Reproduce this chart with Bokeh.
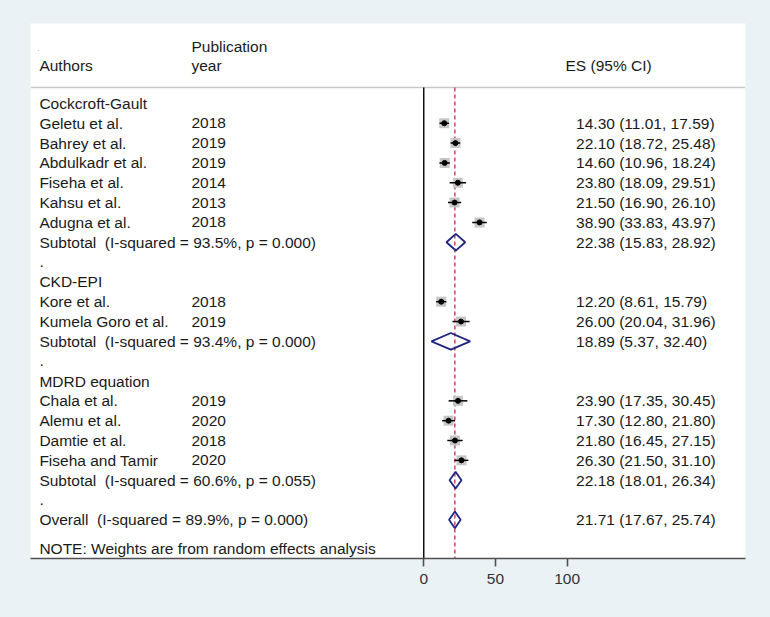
from bokeh.plotting import figure
from bokeh.models import Range1d, FixedTicker, ColumnDataSource
from bokeh.core.properties import value
from bokeh.embed import file_html
from bokeh.resources import INLINE

# ---------------- data ----------------
groups = ["Cockcroft-Gault", "CKD-EPI", "MDRD equation"]
authors = ["Geletu et al.", "Bahrey et al.", "Abdulkadr et al.", "Fiseha et al.",
           "Kahsu et al.", "Adugna et al.",
           "Kore et al.", "Kumela Goro et al.",
           "Chala et al.", "Alemu et al.", "Damtie et al.", "Fiseha and Tamir"]
years = ["2018", "2019", "2019", "2014", "2013", "2018",
         "2018", "2019",
         "2019", "2020", "2018", "2020"]
study_group = [0, 0, 0, 0, 0, 0, 1, 1, 2, 2, 2, 2]
es = [14.30, 22.10, 14.60, 23.80, 21.50, 38.90, 12.20, 26.00, 23.90, 17.30, 21.80, 26.30]
lo = [11.01, 18.72, 10.96, 18.09, 16.90, 33.83, 8.61, 20.04, 17.35, 12.80, 16.45, 21.50]
hi = [17.59, 25.48, 18.24, 29.51, 26.10, 43.97, 15.79, 31.96, 30.45, 21.80, 27.15, 31.10]

sub_i2 = ["93.5%", "93.4%", "60.6%"]
sub_p = ["0.000", "0.000", "0.055"]
sub_es = [22.38, 18.89, 22.18]
sub_lo = [15.83, 5.37, 18.01]
sub_hi = [28.92, 32.40, 26.34]

overall_es, overall_lo, overall_hi = 21.71, 17.67, 25.74
overall_i2, overall_p = "89.9%", "0.000"

x_ticks = [0, 50, 100]

# ---------------- styles ----------------
FONT = value("Liberation Sans")
FS = "15.5px"
TXT = "#1a1a1a"
BG = "#eaf2f6"
NAVY = "#1f2580"
RED = "#c42a45"
SP2 = "\u00a0 "  # double space that survives SVG whitespace collapsing

X_AUTH, X_YEAR, X_ES, X_ESHEAD = -268.2, -162.1, 106.3, 98.9
DH = 0.42  # half height of diamonds (row units)

# ---------------- build rows ----------------
left_txt, left_y = [], []
year_txt, year_y = [], []
es_txt, es_y = [], []
st_x, st_y, st_lo, st_hi = [], [], [], []
dia_xs, dia_ys = [], []

row = 0
for g, gname in enumerate(groups):
    left_txt.append(gname); left_y.append(row); row += 1
    for i in range(len(authors)):
        if study_group[i] != g:
            continue
        left_txt.append(authors[i]); left_y.append(row)
        year_txt.append(years[i]); year_y.append(row)
        es_txt.append(f"{es[i]:.2f} ({lo[i]:.2f}, {hi[i]:.2f})"); es_y.append(row)
        st_x.append(es[i]); st_y.append(row); st_lo.append(lo[i]); st_hi.append(hi[i])
        row += 1
    left_txt.append(f"Subtotal{SP2}(I-squared = {sub_i2[g]}, p = {sub_p[g]})"); left_y.append(row)
    es_txt.append(f"{sub_es[g]:.2f} ({sub_lo[g]:.2f}, {sub_hi[g]:.2f})"); es_y.append(row)
    dia_xs.append([sub_lo[g], sub_es[g], sub_hi[g], sub_es[g]])
    dia_ys.append([row, row - DH, row, row + DH])
    row += 1
    left_txt.append("."); left_y.append(row); row += 1

left_txt.append(f"Overall{SP2}(I-squared = {overall_i2}, p = {overall_p})"); left_y.append(row)
es_txt.append(f"{overall_es:.2f} ({overall_lo:.2f}, {overall_hi:.2f})"); es_y.append(row)
dia_xs.append([overall_lo, overall_es, overall_hi, overall_es])
dia_ys.append([row, row - DH, row, row + DH])
note_row = row + 1.45

HEAD_LINE = -0.80
Y_BOTTOM, Y_TOP = 22.95, -4.03

# ---------------- figure ----------------
p = figure(width=770, height=617, output_backend="svg", toolbar_location=None,
           x_range=Range1d(-274.4, 224.5), y_range=Range1d(Y_BOTTOM, Y_TOP),
           y_axis_location=None,
           min_border_left=30, min_border_right=25, min_border_top=23, min_border_bottom=59)
p.background_fill_color = "white"
p.border_fill_color = BG
p.outline_line_color = None
p.xgrid.visible = False
p.ygrid.visible = False

ax = p.xaxis[0]
ax.ticker = FixedTicker(ticks=x_ticks)
ax.axis_line_color = "#505050"
ax.axis_line_width = 1.6
ax.major_tick_line_color = "#505050"
ax.major_tick_line_width = 1.6
ax.major_tick_in = 0
ax.major_tick_out = 8
ax.minor_tick_line_color = None
ax.major_label_text_font = "Liberation Sans"
ax.major_label_text_font_size = FS
ax.major_label_text_color = "#333333"
ax.major_label_standoff = 7

# header separator line
p.segment(x0=[-274.4], x1=[224.5], y0=[HEAD_LINE], y1=[HEAD_LINE],
          line_color="#c8c8c8", line_width=1.5)
# zero line
p.segment(x0=[0], x1=[0], y0=[HEAD_LINE], y1=[Y_BOTTOM], line_color="black", line_width=1.4)
# overall effect dashed line
p.segment(x0=[overall_es], x1=[overall_es], y0=[HEAD_LINE], y1=[Y_BOTTOM],
          line_color=RED, line_width=1.3, line_dash="4 3")

# study boxes, CI lines, points
p.scatter(x=st_x, y=st_y, marker="square", size=10, fill_color="#c6c6c6", line_color=None)
p.segment(x0=st_lo, x1=st_hi, y0=st_y, y1=st_y, line_color="black", line_width=1.5)
p.scatter(x=st_x, y=st_y, marker="circle", size=5, fill_color="black", line_color="black")

# diamonds
p.patches(xs=dia_xs, ys=dia_ys, fill_color=None, line_color=NAVY, line_width=1.8)

def add_text(xs, ys, texts, size=FS, color=TXT):
    src = ColumnDataSource(dict(x=xs, y=ys, t=texts))
    p.text(x="x", y="y", text="t", source=src, text_font=FONT, text_font_size=size,
           text_color=color, text_baseline="middle", text_align="left")

add_text([X_AUTH] * len(left_txt), left_y, left_txt)
add_text([X_YEAR] * len(year_txt), year_y, year_txt)
add_text([X_ES] * len(es_txt), es_y, es_txt)

# headers
add_text([X_AUTH, X_YEAR, X_ESHEAD], [-1.91, -1.91, -1.91], ["Authors", "year", "ES (95% CI)"])
add_text([X_YEAR], [-2.87], ["Publication"])
add_text([X_AUTH - 1.5], [-2.75], ["."], size="8px", color="#888888")
add_text([X_AUTH], [note_row], ["NOTE: Weights are from random effects analysis"])

html = file_html(p, INLINE)
html = html.replace("</head>",
                    "<style>html,body{margin:0;padding:0;overflow:hidden;background:%s;}</style></head>" % BG, 1)
open("out.html", "w").write(html)
